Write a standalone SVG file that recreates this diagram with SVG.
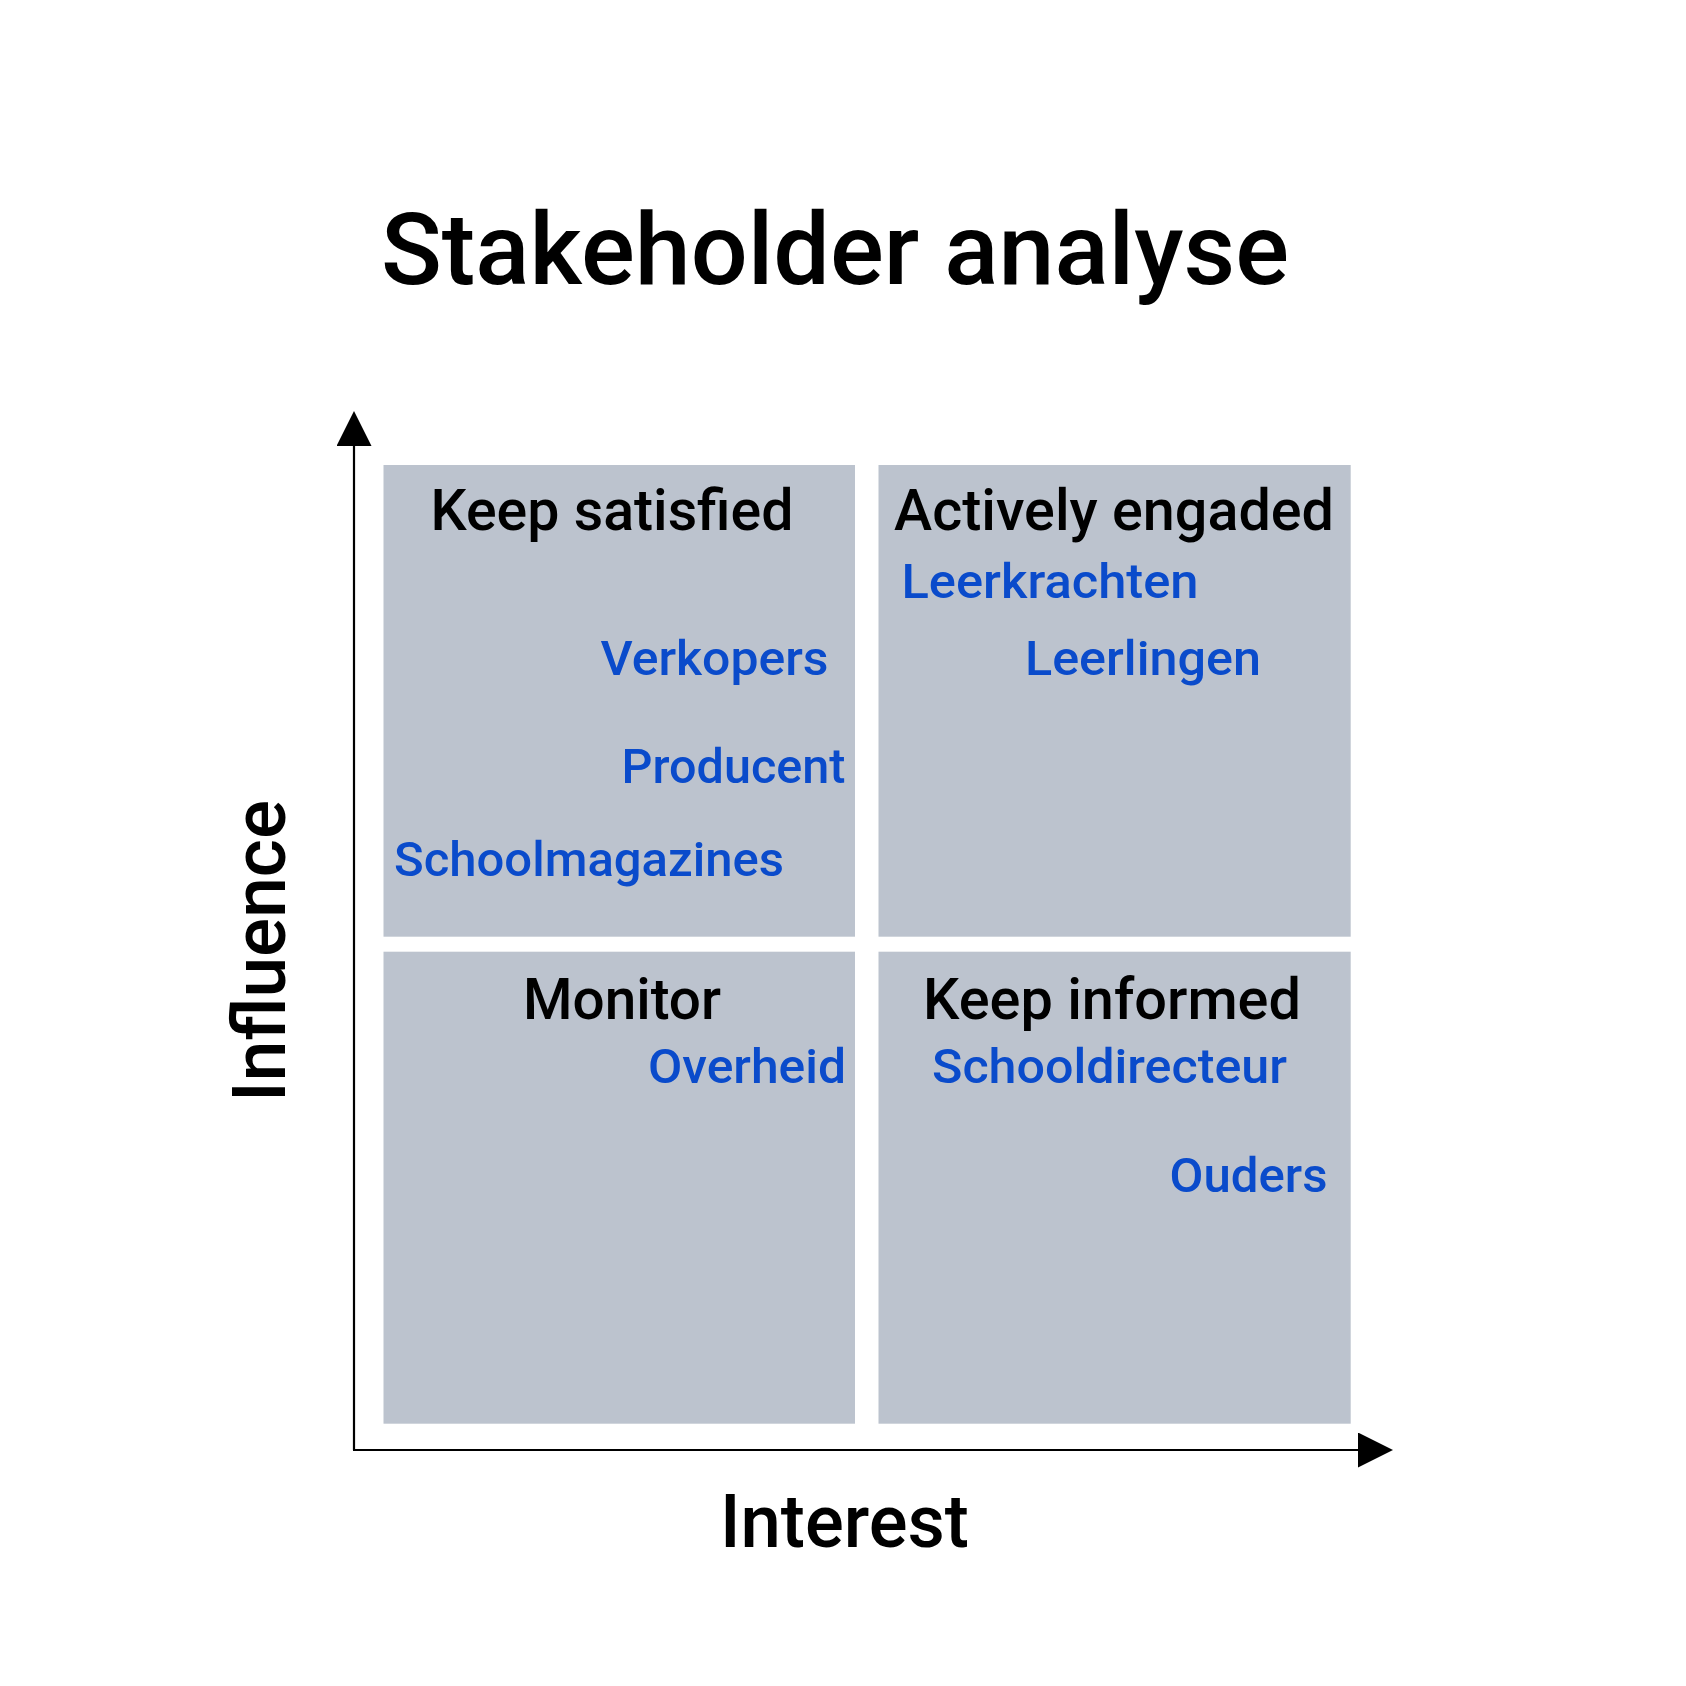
<svg xmlns="http://www.w3.org/2000/svg" width="1686" height="1686" viewBox="0 0 1686 1686">
  <style>
    .quad { fill: #BCC3CE; }
    .t { font-family: Roboto, "Liberation Sans", sans-serif; fill: #000000; font-weight: 500; }
    .title { font-size: 101px; }
    .head { font-size: 58px; }
    .item { font-size: 48.5px; fill: #0A4BCB; }
    .axis-label { font-size: 74px; }
    .axis { stroke: #000000; stroke-width: 2.2; fill: none; }
  </style>
  <defs>
    <marker id="arrow" markerUnits="userSpaceOnUse" markerWidth="36" markerHeight="36" refX="0" refY="17.5" orient="auto">
      <path d="M0,0 L35,17.5 L0,35 Z" fill="#000000"/>
    </marker>
  </defs>
  <rect width="1686" height="1686" fill="#FFFFFF"/>

  <text id="title" class="t title" x="381" y="283.5" textLength="908" lengthAdjust="spacingAndGlyphs">Stakeholder analyse</text>

  <g id="connectors">
    <line class="axis" x1="354" y1="1450" x2="354" y2="446" marker-end="url(#arrow)"/>
    <line class="axis" x1="353" y1="1450" x2="1358" y2="1450" marker-end="url(#arrow)"/>
  </g>

  <g id="keep-satisfied">
    <rect class="quad" x="383.5" y="465" width="471.5" height="471.7"/>
    <text class="t head" x="430.5" y="530" textLength="363" lengthAdjust="spacingAndGlyphs">Keep satisfied</text>
    <text class="t item" x="600.5" y="675" textLength="228" lengthAdjust="spacingAndGlyphs">Verkopers</text>
    <text class="t item" x="621.5" y="783.3" textLength="224" lengthAdjust="spacingAndGlyphs">Producent</text>
    <text class="t item" x="394" y="875.5" textLength="390" lengthAdjust="spacingAndGlyphs">Schoolmagazines</text>
  </g>

  <g id="actively-engaged">
    <rect class="quad" x="878.5" y="465" width="472.2" height="471.7"/>
    <text class="t head" x="894" y="530" textLength="440" lengthAdjust="spacingAndGlyphs">Actively engaded</text>
    <text class="t item" x="901.5" y="597.7" textLength="297" lengthAdjust="spacingAndGlyphs">Leerkrachten</text>
    <text class="t item" x="1025" y="675" textLength="236" lengthAdjust="spacingAndGlyphs">Leerlingen</text>
  </g>

  <g id="monitor">
    <rect class="quad" x="383.5" y="951.7" width="471.5" height="472"/>
    <text class="t head" x="523" y="1019.3" textLength="198" lengthAdjust="spacingAndGlyphs">Monitor</text>
    <text class="t item" x="648" y="1082.7" textLength="198" lengthAdjust="spacingAndGlyphs">Overheid</text>
  </g>

  <g id="keep-informed">
    <rect class="quad" x="878.5" y="951.7" width="472.2" height="472"/>
    <text class="t head" x="923" y="1019.3" textLength="378" lengthAdjust="spacingAndGlyphs">Keep informed</text>
    <text class="t item" x="932" y="1082.7" textLength="355" lengthAdjust="spacingAndGlyphs">Schooldirecteur</text>
    <text class="t item" x="1169.5" y="1191.7" textLength="158" lengthAdjust="spacingAndGlyphs">Ouders</text>
  </g>

  <text id="interest" class="t axis-label" x="720" y="1547.3" textLength="249" lengthAdjust="spacingAndGlyphs">Interest</text>
  <text id="influence" class="t axis-label" transform="translate(284.5,1102) rotate(-90)" x="0" y="0" textLength="302" lengthAdjust="spacingAndGlyphs">Influence</text>
</svg>
